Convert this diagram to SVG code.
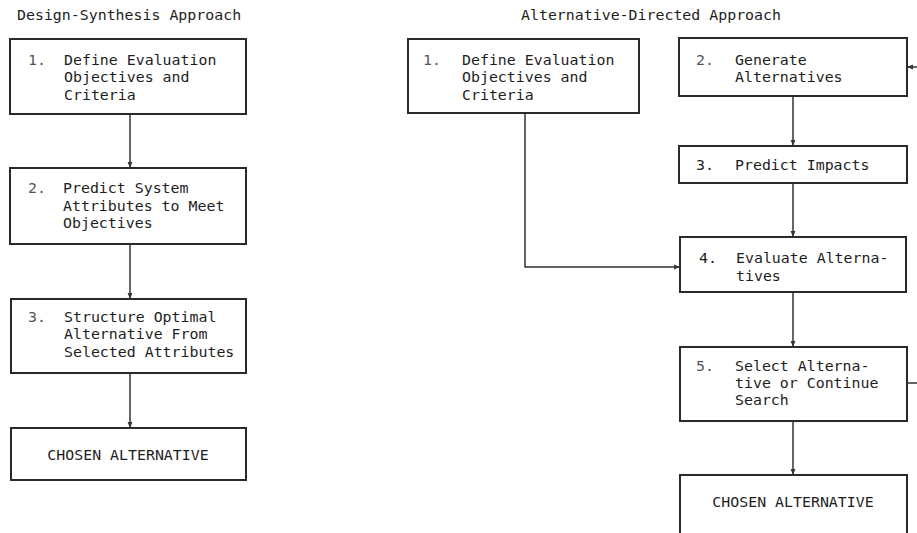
<svg xmlns="http://www.w3.org/2000/svg" width="917" height="533" viewBox="0 0 917 533">
<style>
text{font-family:"DejaVu Sans Mono","Liberation Mono",monospace;font-size:14.9px;fill:#1e1e1e}
.box{fill:#fff;stroke:#2a2a2a;stroke-width:2}
.ln{fill:none;stroke:#333;stroke-width:1.5}
.num{fill:#555}
</style>
<defs>
<marker id="ah" viewBox="0 0 10 10" refX="10" refY="5" markerWidth="6" markerHeight="6" orient="auto" markerUnits="userSpaceOnUse">
<path d="M0,1 L10,5 L0,9 Z" fill="#333"/>
</marker>
</defs>
<rect width="917" height="533" fill="#fff"/>
<text x="17" y="20">Design-Synthesis Approach</text>
<text x="521" y="20">Alternative-Directed Approach</text>

<g id="connectors">
<line class="ln" x1="130" y1="114" x2="130" y2="168" marker-end="url(#ah)"/>
<line class="ln" x1="130" y1="244" x2="130" y2="299" marker-end="url(#ah)"/>
<line class="ln" x1="130" y1="373" x2="130" y2="428" marker-end="url(#ah)"/>
<polyline class="ln" points="525,113 525,267 680,267" marker-end="url(#ah)"/>
<line class="ln" x1="793" y1="96" x2="793" y2="146" marker-end="url(#ah)"/>
<line class="ln" x1="793" y1="183" x2="793" y2="237" marker-end="url(#ah)"/>
<line class="ln" x1="793" y1="292" x2="793" y2="347" marker-end="url(#ah)"/>
<line class="ln" x1="793" y1="421" x2="793" y2="475" marker-end="url(#ah)"/>
<polyline class="ln" points="907,383 930,383 930,67 907,67" marker-end="url(#ah)"/>
</g>

<g id="L1">
<rect class="box" x="10" y="39" width="236" height="75"/>
<text x="28" y="65" class="num">1.</text>
<text x="64" y="65">Define Evaluation</text>
<text x="64" y="82">Objectives and</text>
<text x="64" y="100">Criteria</text>
</g>
<g id="L2">
<rect class="box" x="10" y="168" width="236" height="76"/>
<text x="28" y="193" class="num">2.</text>
<text x="63" y="193">Predict System</text>
<text x="63" y="211">Attributes to Meet</text>
<text x="63" y="228">Objectives</text>
</g>
<g id="L3">
<rect class="box" x="11" y="299" width="235" height="74"/>
<text x="28" y="322" class="num">3.</text>
<text x="64" y="322">Structure Optimal</text>
<text x="64" y="339">Alternative From</text>
<text x="64" y="357">Selected Attributes</text>
</g>
<g id="L4">
<rect class="box" x="11" y="428" width="235" height="52"/>
<text x="128" y="460" text-anchor="middle">CHOSEN ALTERNATIVE</text>
</g>

<g id="R1">
<rect class="box" x="408" y="39" width="231" height="74"/>
<text x="423" y="65" class="num">1.</text>
<text x="462" y="65">Define Evaluation</text>
<text x="462" y="82">Objectives and</text>
<text x="462" y="100">Criteria</text>
</g>
<g id="R2">
<rect class="box" x="679" y="38" width="228" height="58"/>
<text x="696" y="65" class="num">2.</text>
<text x="735" y="65">Generate</text>
<text x="735" y="82">Alternatives</text>
</g>
<g id="R3">
<rect class="box" x="679" y="146" width="228" height="37"/>
<text x="696" y="170">3.</text>
<text x="735" y="170">Predict Impacts</text>
</g>
<g id="R4">
<rect class="box" x="680" y="237" width="226" height="55"/>
<text x="699" y="263">4.</text>
<text x="736" y="263">Evaluate Alterna-</text>
<text x="736" y="281">tives</text>
</g>
<g id="R5">
<rect class="box" x="680" y="347" width="227" height="74"/>
<text x="696" y="371" class="num">5.</text>
<text x="735" y="371">Select Alterna-</text>
<text x="735" y="388">tive or Continue</text>
<text x="735" y="405">Search</text>
</g>
<g id="R6">
<rect class="box" x="680" y="475" width="227" height="70"/>
<text x="793" y="507" text-anchor="middle">CHOSEN ALTERNATIVE</text>
</g>
</svg>
